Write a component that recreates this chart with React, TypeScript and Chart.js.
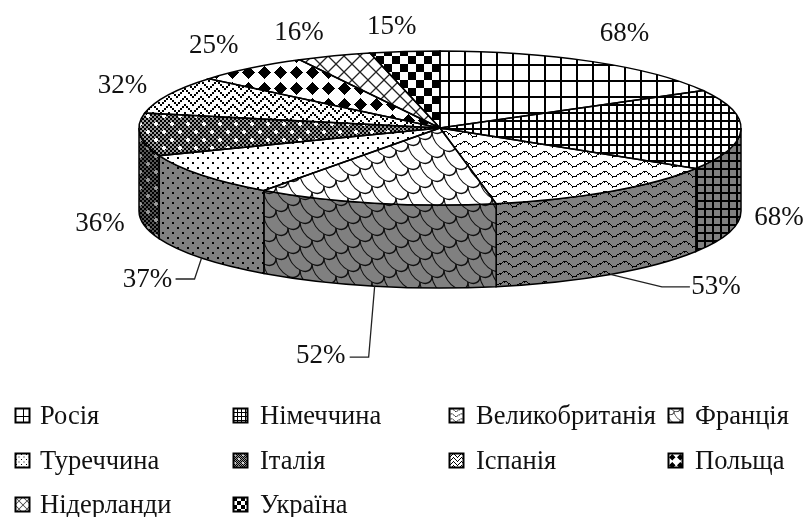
import React, { useEffect, useRef } from "react";
import { Chart, registerables } from "chart.js";

Chart.register(...registerables);

const categories = ["Росія", "Німеччина", "Великобританія", "Франція", "Туреччина", "Італія", "Іспанія", "Польща", "Нідерланди", "Україна"];
const shareValues = [68, 68, 53, 52, 37, 36, 32, 25, 16, 15];

// layout, kept apart from the data
const W = 806, H = 517;
const CX = 440, CY = 128, RX = 301, RY = 77, DEPTH = 83;
const SQUASH = RY / RX;
const labelOffsets = [[32, -28], [38, 88], [105.5, 95.5], [-54, 153], [-54, 105], [-40, 89], [-46, -9], [-37, -22], [-35, -23], [-13, -25]];
const leaderBends: Record<number, number[][]> = {
  2: [[51.5, 12.5], [79.5, 12.5]],
  3: [[-6, 71], [-25, 71]],
  4: [[-7, 21], [-26, 21]],
};
const legendSwatchX = [15, 233, 449, 668];
const legendTextX = [40, 260, 476, 695];
const legendBaseline = [424, 469, 513];
const LEGEND_COLUMNS = 4;

type T = CanvasRenderingContext2D;
const bits = (t: T, rows: string[], cell: number) => {
  t.fillStyle = "#000";
  rows.forEach((r, y) => [...r].forEach((c, x) => { if (c === "X") t.fillRect(x * cell, y * cell, cell, cell); }));
};

const ITALY = 5;
const tiles: { w: number; h: number; draw: (t: T) => void }[] = [
  { w: 16, h: 16, draw: t => { t.fillStyle = "#000"; t.fillRect(0, 0, 2, 16); t.fillRect(0, 0, 16, 2); } },
  { w: 8, h: 8, draw: t => { t.fillStyle = "#000"; t.fillRect(0, 0, 2, 8); t.fillRect(0, 0, 8, 2); } },
  { w: 20, h: 10, draw: t => {
    t.fillStyle = "#000";
    const wave = [3, 3, 2, 1, 1, 1, 1, 2, 3, 3, 4, 5, 6, 6, 6, 6, 5, 4, 4, 3];
    wave.forEach((y, x) => { t.fillRect(x, y, 1, x % 4 === 0 ? 2 : 1); });
  } },
  { w: 48, h: 24, draw: t => {
    t.strokeStyle = "#111"; t.lineWidth = 1.2;
    t.setTransform(1, 0.5, 0, 1, 0, 0);
    for (let j = -8; j < 10; j++) for (let i = -3; i < 5; i++) {
      const x = 24 * i + (((j % 2) + 2) % 2) * 12, y = 12 * j;
      t.beginPath(); t.arc(x, y, 12, 0, Math.PI); t.stroke();
    }
    t.setTransform(1, 0, 0, 1, 0, 0);
  } },
  { w: 10, h: 10, draw: t => { t.fillStyle = "#000"; t.fillRect(2, 2, 2, 2); t.fillRect(7, 7, 2, 2); } },
  { w: 16, h: 16, draw: t => {
    t.fillStyle = "#000";
    for (let y = 0; y < 8; y++) for (let x = 0; x < 8; x++) if ((x + y) % 2 === 0) t.fillRect(x * 2, y * 2, 2, 2);
  } },
  { w: 16, h: 16, draw: t => {
    t.fillStyle = "#000";
    for (let r = 0; r < 8; r++) for (let c = 0; c < 8; c++) {
      if (((r - Math.abs(c - 4)) % 4 + 4) % 4 === 0) t.fillRect(c * 2, r * 2, 2, 2);
    }
  } },
  { w: 16, h: 16, draw: t => {
    t.fillStyle = "#000";
    for (let y = 0; y < 16; y++) for (let x = 0; x < 16; x++) if (Math.abs(x - 8) + Math.abs(y - 8) <= 6) t.fillRect(x, y, 1, 1);
  } },
  { w: 16, h: 16, draw: t => {
    t.strokeStyle = "#222"; t.lineWidth = 1.3;
    t.beginPath();
    for (let k = -16; k <= 16; k += 16) { t.moveTo(k, 0); t.lineTo(k + 16, 16); t.moveTo(k + 16, 0); t.lineTo(k, 16); }
    t.stroke();
  } },
  { w: 16, h: 16, draw: t => { bits(t, ["X.", ".X"], 8); } },
];

const makePattern = (i: number, bg: string, italyGap: string, accent: string): CanvasPattern => {
  const tile = tiles[i];
  const c = document.createElement("canvas");
  c.width = tile.w; c.height = tile.h;
  const t = c.getContext("2d") as T;
  t.fillStyle = i === ITALY ? italyGap : bg;
  t.fillRect(0, 0, tile.w, tile.h);
  tile.draw(t);
  if (i === ITALY) {
    t.fillStyle = accent;
    [[0, 0], [8, 8]].forEach(([x, y]) => {
      t.fillRect(x + 3, y + 2, 2, 4);
      t.fillRect(x + 2, y + 3, 4, 2);
    });
  }
  return t.createPattern(c, "repeat") as CanvasPattern;
};

const pie3dPlugin = {
  id: "pie3d",
  beforeDatasetsDraw(chart: Chart) {
    const ctx = chart.ctx;
    const arcs = chart.getDatasetMeta(0).data as any[];
    const walls = (chart as any).$wallPatterns as CanvasPattern[];
    arcs.forEach((a, i) => {
      const s = Math.max(a.startAngle, 0), e = Math.min(a.endAngle, Math.PI);
      if (e <= s) return;
      ctx.beginPath();
      ctx.ellipse(CX, CY, RX, RY, 0, s, e);
      ctx.ellipse(CX, CY + DEPTH, RX, RY, 0, e, s, true);
      ctx.closePath();
      ctx.fillStyle = walls[i];
      ctx.fill();
      ctx.strokeStyle = "#000";
      ctx.lineWidth = 1.5;
      ctx.stroke();
    });
  },
  beforeDatasetDraw(chart: Chart) {
    const ctx = chart.ctx;
    ctx.save();
    ctx.translate(0, CY); ctx.scale(1, SQUASH); ctx.translate(0, -CY);
  },
  afterDatasetDraw(chart: Chart) {
    chart.ctx.restore();
  },
  afterDatasetsDraw(chart: Chart) {
    const ctx = chart.ctx;
    const arcs = chart.getDatasetMeta(0).data as any[];
    ctx.strokeStyle = "#000";
    ctx.lineWidth = 1.5;
    arcs.forEach(a => {
      ctx.beginPath();
      ctx.moveTo(CX, CY);
      ctx.ellipse(CX, CY, RX, RY, 0, a.startAngle, a.endAngle);
      ctx.closePath();
      ctx.stroke();
    });

    ctx.fillStyle = "#111";
    ctx.font = '27px "Liberation Serif"';
    ctx.textAlign = "center";
    ctx.textBaseline = "middle";
    arcs.forEach((a, i) => {
      const mid = (a.startAngle + a.endAngle) / 2;
      const rimX = CX + RX * Math.cos(mid), rimY = CY + RY * Math.sin(mid);
      const [dx, dy] = labelOffsets[i];
      ctx.fillText(`${shareValues[i]}%`, rimX + dx, rimY + dy);
      const bends = leaderBends[i];
      if (bends) {
        ctx.beginPath();
        ctx.moveTo(rimX, rimY + DEPTH);
        bends.forEach(([bx, by]) => ctx.lineTo(rimX + bx, rimY + DEPTH + by));
        ctx.strokeStyle = "#222";
        ctx.lineWidth = 1.3;
        ctx.stroke();
      }
    });

    const swatches = (chart as any).$swatchPatterns as CanvasPattern[];
    ctx.font = '26.5px "Liberation Serif"';
    ctx.textAlign = "left";
    ctx.textBaseline = "alphabetic";
    categories.forEach((name, i) => {
      const col = i % LEGEND_COLUMNS, row = Math.floor(i / LEGEND_COLUMNS);
      const x = legendSwatchX[col], base = legendBaseline[row];
      ctx.save();
      ctx.translate(x, base - 16);
      ctx.beginPath(); ctx.rect(0, 0, 15, 15); ctx.clip();
      ctx.scale(0.5, 0.5);
      ctx.fillStyle = swatches[i];
      ctx.fillRect(0, 0, 30, 30);
      ctx.restore();
      ctx.strokeStyle = "#000";
      ctx.lineWidth = 2;
      ctx.strokeRect(x + 0.5, base - 15.5, 14, 14);
      ctx.fillStyle = "#111";
      ctx.fillText(name, legendTextX[col], base);
    });
  },
};

export default function App() {
  const ref = useRef<HTMLCanvasElement>(null);
  useEffect(() => {
    const canvas = ref.current as HTMLCanvasElement;
    const unsquash = new DOMMatrix().translate(0, CY).scale(1, 1 / SQUASH).translate(0, -CY);
    const topPatterns = categories.map((_, i) => {
      const p = makePattern(i, "#fff", "#999", "#fff");
      p.setTransform(unsquash);
      return p;
    });
    const chart = new Chart(canvas, {
      type: "pie",
      data: {
        labels: categories,
        datasets: [{
          data: shareValues,
          backgroundColor: topPatterns,
          hoverBackgroundColor: topPatterns,
          borderWidth: 0,
          radius: RX,
          clip: false,
        } as any],
      },
      options: {
        animation: false,
        responsive: false,
        events: [],
        layout: { padding: { left: 2 * CX - W, bottom: H - 2 * CY, top: 0, right: 0 } },
        plugins: { legend: { display: false }, tooltip: { enabled: false }, title: { display: false } },
      },
      plugins: [{
        id: "patternStore",
        beforeInit(c: any) {
          c.$wallPatterns = categories.map((_, i) => makePattern(i, "#808080", "#555", "#999"));
          c.$swatchPatterns = categories.map((_, i) => makePattern(i, "#fff", "#999", "#fff"));
        },
      }, pie3dPlugin as any],
    });
    return () => chart.destroy();
  }, []);
  return (
    <canvas
      ref={ref}
      width={W}
      height={H}
      style={{ position: "fixed", left: 0, top: 0, width: W, height: H, display: "block" }}
    />
  );
}
